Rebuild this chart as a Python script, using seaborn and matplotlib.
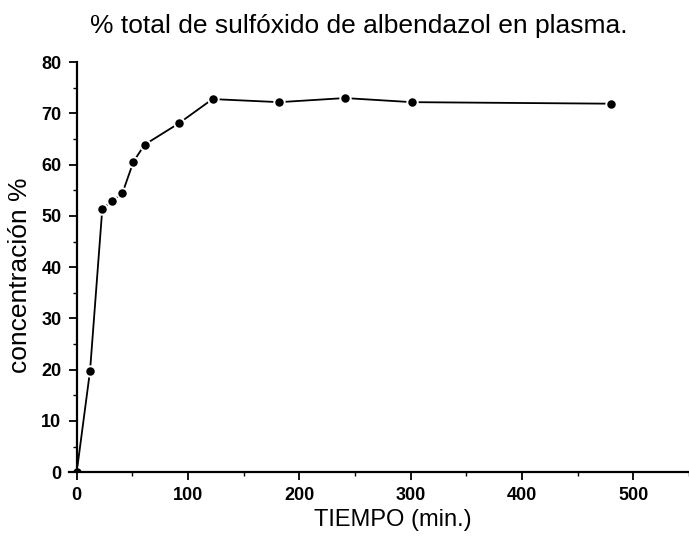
import matplotlib
matplotlib.use("Agg")
import matplotlib.pyplot as plt
import seaborn as sns
import pandas as pd
from matplotlib.ticker import MultipleLocator

tiempo = [0, 12, 23, 32, 41, 51, 61, 92, 122, 182, 241, 301, 480]
concentracion = [0, 19.8, 51.4, 52.9, 54.4, 60.6, 63.9, 68.1, 72.8, 72.2, 73.0, 72.2, 71.9]
x_ticks = [0, 100, 200, 300, 400, 500]
y_ticks = [0, 10, 20, 30, 40, 50, 60, 70, 80]

df = pd.DataFrame({"tiempo": tiempo, "conc": concentracion})

sns.set_style("white")
plt.rcParams["font.family"] = ["Liberation Sans", "DejaVu Sans"]
plt.rcParams["text.color"] = "black"
plt.rcParams["axes.labelcolor"] = "black"

fig = plt.figure(figsize=(6.89, 5.36), dpi=100)
ax = fig.add_axes([0.100, 0.119, 0.900, 0.765])

sns.lineplot(data=df, x="tiempo", y="conc", ax=ax, color="black", linewidth=1.3,
             marker="o", markersize=7.5, markeredgecolor="white", markeredgewidth=1.4,
             markerfacecolor="black")

ax.set_xlim(-7, 550)
ax.set_ylim(0, 80)
ax.spines["left"].set_position(("data", 0))
ax.spines["top"].set_visible(False)
ax.spines["right"].set_visible(False)
for s in ("left", "bottom"):
    ax.spines[s].set_linewidth(1.6)
    ax.spines[s].set_color("black")

ax.set_xticks(x_ticks)
ax.set_yticks(y_ticks)
ax.xaxis.set_minor_locator(MultipleLocator(50))
ax.yaxis.set_minor_locator(MultipleLocator(5))
ax.tick_params(axis="both", which="major", direction="out", length=6, width=1.3,
               colors="black", labelsize=13)
ax.tick_params(axis="x", which="major", pad=5)
ax.tick_params(axis="y", which="major", pad=5)
ax.tick_params(axis="both", which="minor", direction="out", length=3, width=1.0, colors="black")
ax.tick_params(axis="x", which="both", bottom=True)
ax.tick_params(axis="y", which="both", left=True)
for lab in ax.get_xticklabels() + ax.get_yticklabels():
    lab.set_fontweight("bold")

ax.set_xlabel("TIEMPO (min.)", fontsize=17)
ax.xaxis.label.set_va("center")
ax.xaxis.set_label_coords(0.523, -0.117)
ax.set_ylabel("concentración %", fontsize=19)
ax.yaxis.label.set_va("center")
ax.yaxis.label.set_ha("center")
ax.yaxis.set_label_coords(-0.079, 0.48)

fig.text(0.52, 0.951, "% total de sulfóxido de albendazol en plasma.", ha="center",
         va="center", fontsize=19)

fig.savefig("out.png", dpi=100)
